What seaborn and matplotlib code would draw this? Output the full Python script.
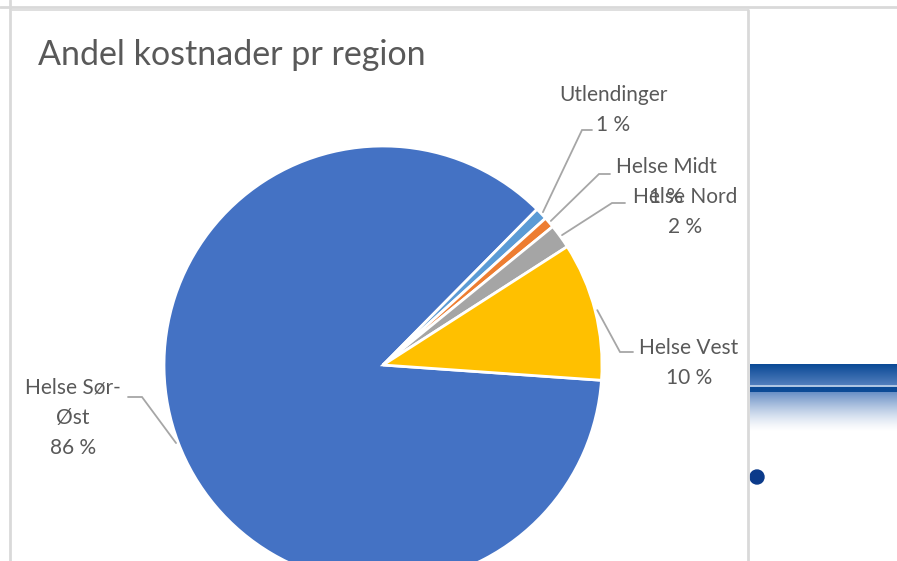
import numpy as np
import matplotlib
matplotlib.use("Agg")
import matplotlib.pyplot as plt
from matplotlib.lines import Line2D
from matplotlib.patches import Circle
import seaborn as sns

# data (clockwise order, Excel style)
regions = ["Helse Sør-\nØst", "Utlendinger", "Helse Midt", "Helse Nord", "Helse Vest"]
shares = [86.3, 0.9, 0.8, 1.8, 10.2]
colors = ["#4472C4", "#5B9BD5", "#ED7D31", "#A5A5A5", "#FFC000"]

# label layout in pixels: text centre, elbow, end of leader
label_pos = [(73, 418), (613, 110), (666, 182), (685, 212), (689, 363)]
leader_elbow = [(142, 397), (582, 130), (599, 174), (612, 203), (620, 352)]
leader_end = [(128, 397), (592, 130), (610, 174), (625, 203), (633, 352)]

sns.set_theme(style="white")
plt.rcParams['font.family'] = ['Lato', 'DejaVu Sans']

W, H = 897, 561
CX, CY, R = 383, 365, 219

fig = plt.figure(figsize=(W / 100, H / 100), dpi=100)
fig.patch.set_facecolor("white")
ax = fig.add_axes([0, 0, 1, 1])


def px(x, y):
    return (x - CX) / R, (CY - y) / R


wedges, _ = ax.pie(shares, colors=colors, startangle=-4, counterclock=False,
                   radius=1, wedgeprops=dict(edgecolor="white", linewidth=2))
ax.set_aspect("auto")
ax.set_xlim(-CX / R, (W - CX) / R)
ax.set_ylim((CY - H) / R, CY / R)
ax.axis("off")

grey = "#595959"
for w, name, val, tp, el, en in zip(wedges, regions, shares, label_pos, leader_elbow, leader_end):
    mid = np.deg2rad((w.theta1 + w.theta2) / 2)
    start = (1.01 * np.cos(mid), 1.01 * np.sin(mid))
    e1 = px(*el)
    e2 = px(*en)
    ax.plot([start[0], e1[0], e2[0]], [start[1], e1[1], e2[1]], color="#A6A6A6", lw=1.3,
            solid_joinstyle="miter")
    tx, ty = px(*tp)
    ax.text(tx, ty, f"{name}\n{round(val)} %", ha="center", va="center",
            multialignment="center", fontsize=15, color=grey, linespacing=1.65)

# title
tx, ty = px(38, 55)
ax.text(tx, ty, "Andel kostnader pr region", ha="left", va="center",
        fontsize=24.5, color=grey)

# frame lines like the spreadsheet screenshot
border = "#D9D9D9"
def fline(x0, y0, x1, y1, lw=2):
    fig.add_artist(Line2D([x0 / W, x1 / W], [1 - y0 / H, 1 - y1 / H],
                          transform=fig.transFigure, color=border, lw=lw))

fline(0, 7, W, 7)
fline(10, 0, 10, H)
fline(12, 10, 748, 10, lw=1.2)
fline(748, 10, 748, H)

# blue gradient band to the right
gx = fig.add_axes([750 / W, 1 - 432 / H, (W - 750) / W, (432 - 364) / H])
rows = 68
dark = np.array([11, 74, 150]) / 255
mid_b = np.array([80, 125, 188]) / 255
white = np.array([1.0, 1.0, 1.0])
grad = np.zeros((rows, 2, 3))
for i in range(rows):
    if i < 21:
        t = i / 20
        c = dark * (1 - t) + mid_b * t
    elif i < 23:
        c = np.array([175, 198, 228]) / 255
    elif i < 28:
        c = dark
    else:
        t = (i - 28) / (rows - 29)
        k = (1 - t) ** 1.4 * 0.85
        c = np.clip(mid_b * k + white * (1 - k), 0, 1)
    grad[i, :, :] = c
gx.imshow(grad, aspect="auto", interpolation="bilinear")
gx.axis("off")

dx, dy = px(757, 477)
ax.add_patch(Circle((dx, dy), 7 / R, color="#0B3A8A", clip_on=False))

fig.savefig("out.png", dpi=100)
